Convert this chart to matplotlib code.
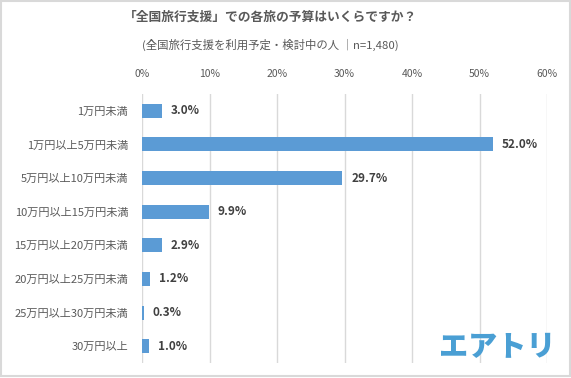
import matplotlib.pyplot as plt
from matplotlib.patches import Rectangle

plt.rcParams['font.family'] = ['Noto Sans CJK JP', 'DejaVu Sans']

categories = ["1万円未満", "1万円以上5万円未満", "5万円以上10万円未満", "10万円以上15万円未満",
              "15万円以上20万円未満", "20万円以上25万円未満", "25万円以上30万円未満", "30万円以上"]
values = [3.0, 52.0, 29.7, 9.9, 2.9, 1.2, 0.3, 1.0]
ticks = [0, 10, 20, 30, 40, 50, 60]

fig = plt.figure(figsize=(5.71, 3.78), dpi=100)
ax = fig.add_axes([142 / 571, 1 - 363 / 378, (547 - 142) / 571, (363 - 94) / 378])

y = list(range(len(categories)))
ax.barh(y, values, height=0.42, color="#5B9BD5", zorder=3)
for yi, v in zip(y, values):
    ax.text(v + 1.3, yi, f"{v:.1f}%", va="center", ha="left", fontsize=8.5,
            fontweight="bold", color="#404040")

ax.set_ylim(len(categories) - 0.5, -0.5)
ax.set_xlim(0, 60)
ax.set_yticks(y)
ax.set_yticklabels(categories, fontsize=8, color="#595959")
ax.set_xticks(ticks)
ax.set_xticklabels([f"{t}%" for t in ticks], fontsize=7.5, color="#595959")
ax.xaxis.tick_top()
ax.tick_params(length=0, axis="x", pad=11)
ax.tick_params(length=0, axis="y", pad=10)
ax.grid(axis="x", color="#D9D9D9", linewidth=1, zorder=0)
for s in ax.spines.values():
    s.set_visible(False)

fig.text(271 / 571, 1 - 17 / 378, "「全国旅行支援」での各旅の予算はいくらですか？", ha="center", va="center",
         fontsize=9.2, fontweight="bold", color="#595959")
fig.text(270 / 571, 1 - 45 / 378, "(全国旅行支援を利用予定・検討中の人 ｜n=1,480)", ha="center", va="center",
         fontsize=8.2, color="#595959")
fig.text(497 / 571, 1 - 347 / 378, "エアトリ", ha="center", va="center",
         fontsize=21, fontweight="heavy", color="#4A9FD4")

fig.patches.append(Rectangle((0.001, 0.004), 0.997, 0.994, transform=fig.transFigure,
                             fill=False, edgecolor="#D9D9D9", linewidth=1.5))

fig.savefig("out.png", dpi=100)
